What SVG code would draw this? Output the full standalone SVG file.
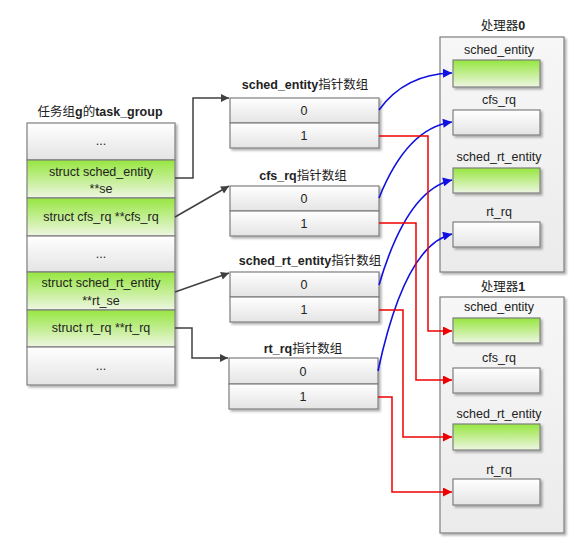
<svg xmlns="http://www.w3.org/2000/svg" width="576" height="548" viewBox="0 0 576 548">
<defs>
<linearGradient id="gGrey" x1="0" y1="0" x2="0" y2="1"><stop offset="0" stop-color="#ffffff"/><stop offset="1" stop-color="#e4e4e4"/></linearGradient>
<linearGradient id="gGreen" x1="0" y1="0" x2="0" y2="1"><stop offset="0" stop-color="#96e640"/><stop offset="1" stop-color="#eef6e2"/></linearGradient>
<linearGradient id="gProc" x1="0" y1="0" x2="0" y2="1"><stop offset="0" stop-color="#f7f7f7"/><stop offset="1" stop-color="#ebebeb"/></linearGradient>
<filter id="sh" x="-10%" y="-10%" width="130%" height="130%"><feDropShadow dx="2" dy="2" stdDeviation="1" flood-color="#000" flood-opacity="0.3"/></filter>
<marker id="aK" viewBox="0 0 10 10" refX="10" refY="5" markerWidth="9" markerHeight="8" markerUnits="userSpaceOnUse" orient="auto"><path d="M0,0 L10,5 L0,10 z" fill="#404040"/></marker>
<marker id="aB" viewBox="0 0 10 10" refX="10" refY="5" markerWidth="10" markerHeight="9" markerUnits="userSpaceOnUse" orient="auto"><path d="M0,0 L10,5 L0,10 z" fill="#1010e0"/></marker>
<marker id="aR" viewBox="0 0 10 10" refX="10" refY="5" markerWidth="10" markerHeight="9" markerUnits="userSpaceOnUse" orient="auto"><path d="M0,0 L10,5 L0,10 z" fill="#ee0000"/></marker>
</defs>
<style>
.box{stroke:#7f7f7f;stroke-width:1.2}
.grey{fill:url(#gGrey)}
.green{fill:url(#gGreen)}
.proc{fill:url(#gProc)}
text{font-family:"Liberation Sans","Noto Sans CJK SC",sans-serif;font-size:12.5px;fill:#222;text-anchor:middle}
.t{font-size:12.5px}
.b{font-weight:bold}
.k{fill:none;stroke:#404040;stroke-width:1.5}
.bl{fill:none;stroke:#1010e0;stroke-width:1.6}
.rd{fill:none;stroke:#ee0000;stroke-width:1.5}
</style>

<g id="task_group">
<text class="t" x="100" y="116">任务组<tspan class="b">g</tspan>的<tspan class="b">task_group</tspan></text>
<g filter="url(#sh)">
<rect class="box grey" x="27" y="123" width="148" height="37"/>
<rect class="box green" x="27" y="160" width="148" height="38"/>
<rect class="box green" x="27" y="198" width="148" height="38"/>
<rect class="box grey" x="27" y="236" width="148" height="36"/>
<rect class="box green" x="27" y="272" width="148" height="38"/>
<rect class="box green" x="27" y="310" width="148" height="37"/>
<rect class="box grey" x="27" y="347" width="148" height="38"/>
</g>
<text x="101" y="145">...</text>
<text x="101" y="176">struct sched_entity</text>
<text x="101" y="193">**se</text>
<text x="101" y="221">struct cfs_rq **cfs_rq</text>
<text x="101" y="258">...</text>
<text x="101" y="287">struct sched_rt_entity</text>
<text x="101" y="305">**rt_se</text>
<text x="101" y="332">struct rt_rq **rt_rq</text>
<text x="101" y="370">...</text>
</g>

<g id="se_array">
<text class="t" x="305" y="89"><tspan class="b">sched_entity</tspan>指针数组</text>
<g filter="url(#sh)">
<rect class="box grey" x="230" y="98" width="149" height="25"/>
<rect class="box grey" x="230" y="123" width="149" height="25"/>
</g>
<text x="304" y="115">0</text>
<text x="304" y="140">1</text>
</g>

<g id="cfs_array">
<text class="t" x="303" y="180"><tspan class="b">cfs_rq</tspan>指针数组</text>
<g filter="url(#sh)">
<rect class="box grey" x="230" y="186" width="149" height="25"/>
<rect class="box grey" x="230" y="211" width="149" height="25"/>
</g>
<text x="304" y="203">0</text>
<text x="304" y="228">1</text>
</g>

<g id="rt_se_array">
<text class="t" x="310" y="265"><tspan class="b">sched_rt_entity</tspan>指针数组</text>
<g filter="url(#sh)">
<rect class="box grey" x="230" y="272" width="149" height="25"/>
<rect class="box grey" x="230" y="297" width="149" height="25"/>
</g>
<text x="304" y="289">0</text>
<text x="304" y="314">1</text>
</g>

<g id="rt_rq_array">
<text class="t" x="303" y="353"><tspan class="b">rt_rq</tspan>指针数组</text>
<g filter="url(#sh)">
<rect class="box grey" x="229" y="358" width="149" height="26"/>
<rect class="box grey" x="229" y="384" width="149" height="25"/>
</g>
<text x="303" y="376">0</text>
<text x="303" y="401">1</text>
</g>

<g id="cpu0">
<text class="t" x="503" y="30">处理器<tspan class="b">0</tspan></text>
<rect class="box proc" x="440" y="37" width="124" height="235" filter="url(#sh)"/>
<text x="499" y="54">sched_entity</text>
<rect class="box green" x="453" y="60" width="87" height="27" filter="url(#sh)"/>
<text x="499" y="104">cfs_rq</text>
<rect class="box grey" x="453" y="110" width="87" height="25" filter="url(#sh)"/>
<text x="499" y="161">sched_rt_entity</text>
<rect class="box green" x="453" y="168" width="87" height="25" filter="url(#sh)"/>
<text x="499" y="216">rt_rq</text>
<rect class="box grey" x="453" y="222" width="87" height="25" filter="url(#sh)"/>
</g>

<g id="cpu1">
<text class="t" x="503" y="291">处理器<tspan class="b">1</tspan></text>
<rect class="box proc" x="440" y="297" width="124" height="236" filter="url(#sh)"/>
<text x="499" y="311">sched_entity</text>
<rect class="box green" x="453" y="318" width="87" height="25" filter="url(#sh)"/>
<text x="499" y="362">cfs_rq</text>
<rect class="box grey" x="453" y="368" width="87" height="25" filter="url(#sh)"/>
<text x="499" y="418">sched_rt_entity</text>
<rect class="box green" x="453" y="424" width="87" height="26" filter="url(#sh)"/>
<text x="499" y="474">rt_rq</text>
<rect class="box grey" x="453" y="479" width="87" height="26" filter="url(#sh)"/>
</g>

<g id="connectors">
<path class="k" d="M175,178 H193 V98 H229" marker-end="url(#aK)"/>
<path class="k" d="M175,217 L229,186" marker-end="url(#aK)"/>
<path class="k" d="M175,292 L229,273" marker-end="url(#aK)"/>
<path class="k" d="M175,328 H192 V358 H228" marker-end="url(#aK)"/>

<path class="bl" d="M379,110 Q405,74 452,73" marker-end="url(#aB)"/>
<path class="bl" d="M379,198 Q407,128 452,122" marker-end="url(#aB)"/>
<path class="bl" d="M379,285 Q407,190 452,180" marker-end="url(#aB)"/>
<path class="bl" d="M378,371 Q405,245 452,234" marker-end="url(#aB)"/>

<path class="rd" d="M379,136 H428 V331 H452" marker-end="url(#aR)"/>
<path class="rd" d="M379,223 H416 V380 H452" marker-end="url(#aR)"/>
<path class="rd" d="M379,310 H403 V437 H452" marker-end="url(#aR)"/>
<path class="rd" d="M378,397 H392 V492 H452" marker-end="url(#aR)"/>
</g>
</svg>
